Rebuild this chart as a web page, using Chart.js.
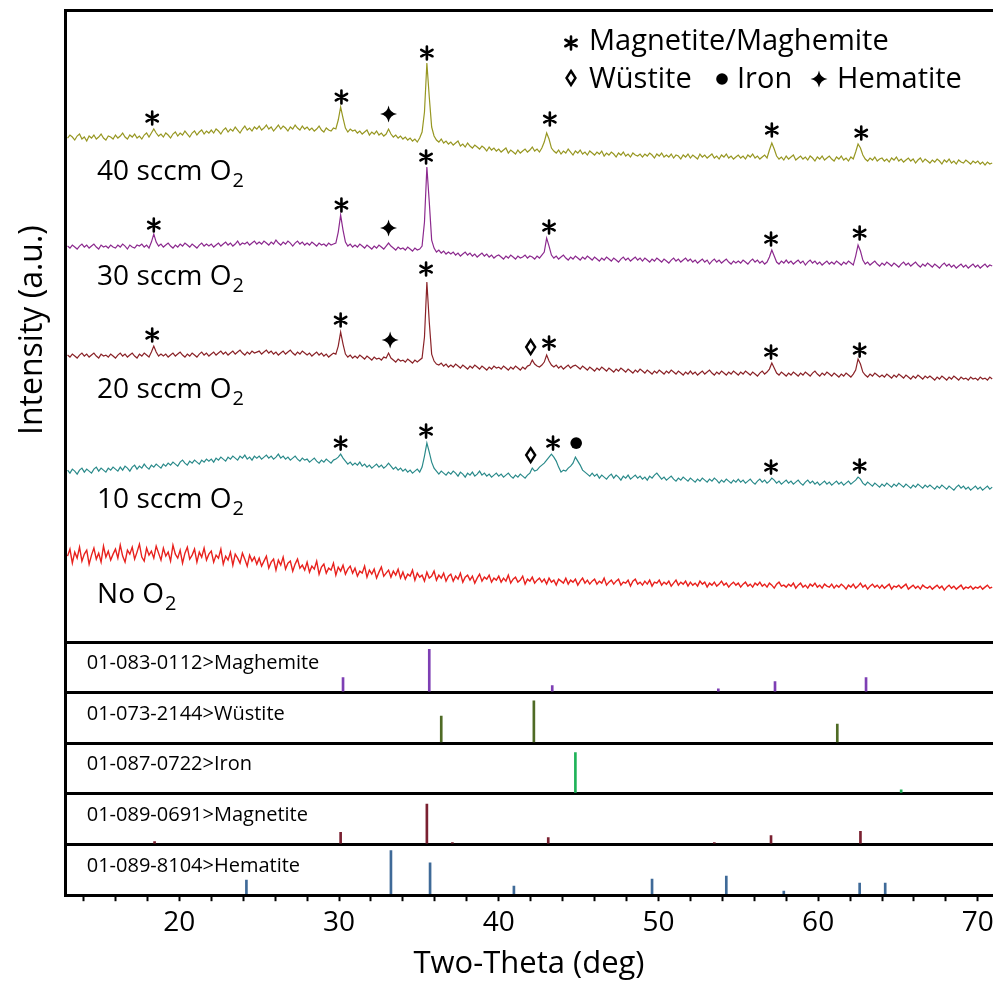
<!DOCTYPE html>
<html lang="en">
<head>
    <meta charset="UTF-8">
    <title>XRD patterns</title>
    <script src="https://cdn.jsdelivr.net/npm/chart.js@4.4.1/dist/chart.umd.min.js"></script>
    <style>
        body { margin: 0; background: #fff; }
        canvas { display: block; }
    </style>
</head>
<body>
<canvas id="xrd" width="993" height="990"></canvas>
<script>
// 2-theta grid (deg) shared by the measured patterns
const twoTheta = [
    13,13.15,13.3,13.45,13.6,13.75,13.9,14.05,14.2,14.35,14.5,14.65,14.8,14.95,15.1,15.25,15.4,15.55,15.7,15.85,
    16,16.15,16.3,16.45,16.6,16.75,16.9,17.05,17.2,17.35,17.5,17.65,17.8,17.95,18.1,18.25,18.4,18.55,18.7,18.85,
    19,19.15,19.3,19.45,19.6,19.75,19.9,20.05,20.2,20.35,20.5,20.65,20.8,20.95,21.1,21.25,21.4,21.55,21.7,21.85,
    22,22.15,22.3,22.45,22.6,22.75,22.9,23.05,23.2,23.35,23.5,23.65,23.8,23.95,24.1,24.25,24.4,24.55,24.7,24.85,
    25,25.15,25.3,25.45,25.6,25.75,25.9,26.05,26.2,26.35,26.5,26.65,26.8,26.95,27.1,27.25,27.4,27.55,27.7,27.85,
    28,28.15,28.3,28.45,28.6,28.75,28.9,29.05,29.2,29.35,29.5,29.65,29.8,29.95,30.1,30.25,30.4,30.55,30.7,30.85,
    31,31.15,31.3,31.45,31.6,31.75,31.9,32.05,32.2,32.35,32.5,32.65,32.8,32.95,33.1,33.25,33.4,33.55,33.7,33.85,
    34,34.15,34.3,34.45,34.6,34.75,34.9,35.05,35.2,35.35,35.5,35.65,35.8,35.95,36.1,36.25,36.4,36.55,36.7,36.85,
    37,37.15,37.3,37.45,37.6,37.75,37.9,38.05,38.2,38.35,38.5,38.65,38.8,38.95,39.1,39.25,39.4,39.55,39.7,39.85,
    40,40.15,40.3,40.45,40.6,40.75,40.9,41.05,41.2,41.35,41.5,41.65,41.8,41.95,42.1,42.25,42.4,42.55,42.7,42.85,
    43,43.15,43.3,43.45,43.6,43.75,43.9,44.05,44.2,44.35,44.5,44.65,44.8,44.95,45.1,45.25,45.4,45.55,45.7,45.85,
    46,46.15,46.3,46.45,46.6,46.75,46.9,47.05,47.2,47.35,47.5,47.65,47.8,47.95,48.1,48.25,48.4,48.55,48.7,48.85,
    49,49.15,49.3,49.45,49.6,49.75,49.9,50.05,50.2,50.35,50.5,50.65,50.8,50.95,51.1,51.25,51.4,51.55,51.7,51.85,
    52,52.15,52.3,52.45,52.6,52.75,52.9,53.05,53.2,53.35,53.5,53.65,53.8,53.95,54.1,54.25,54.4,54.55,54.7,54.85,
    55,55.15,55.3,55.45,55.6,55.75,55.9,56.05,56.2,56.35,56.5,56.65,56.8,56.95,57.1,57.25,57.4,57.55,57.7,57.85,
    58,58.15,58.3,58.45,58.6,58.75,58.9,59.05,59.2,59.35,59.5,59.65,59.8,59.95,60.1,60.25,60.4,60.55,60.7,60.85,
    61,61.15,61.3,61.45,61.6,61.75,61.9,62.05,62.2,62.35,62.5,62.65,62.8,62.95,63.1,63.25,63.4,63.55,63.7,63.85,
    64,64.15,64.3,64.45,64.6,64.75,64.9,65.05,65.2,65.35,65.5,65.65,65.8,65.95,66.1,66.25,66.4,66.55,66.7,66.85,
    67,67.15,67.3,67.45,67.6,67.75,67.9,68.05,68.2,68.35,68.5,68.65,68.8,68.95,69.1,69.25,69.4,69.55,69.7,69.85,
    70,70.15,70.3,70.45,70.6,70.75,70.9
];

// intensities, already offset for the stacked plot (a.u.)
const sccm40 = [
    504,507,505,502,506,508,503,505,501,506,504,507,503,505,508,504,502,506,505,503,
    507,504,506,509,505,503,507,505,508,504,506,503,507,509,505,509,513,509,506,508,
    505,509,507,504,508,510,506,509,507,511,508,505,509,511,507,510,512,508,511,509,
    512,509,513,511,508,512,514,510,513,511,515,512,509,513,516,512,514,511,515,513,
    516,512,514,517,513,515,511,514,517,513,516,514,511,515,513,517,514,512,516,513,
    515,512,514,511,513,516,512,510,514,512,511,514,513,522,535,524,514,510,513,511,
    512,509,511,508,510,512,507,510,508,511,507,509,506,508,513,508,505,507,504,506,
    503,505,502,504,501,503,500,504,510,530,579,545,515,506,502,500,503,499,501,498,
    500,497,499,501,496,498,495,499,496,494,497,495,493,496,494,491,495,492,494,491,
    493,490,492,494,489,492,490,488,492,489,491,493,490,492,495,491,493,490,494,500,
    509,503,494,491,489,492,488,491,489,493,490,487,491,489,492,488,490,487,491,489,
    487,490,488,491,486,489,487,490,488,485,489,487,490,486,488,485,489,487,486,488,
    485,488,486,489,487,484,488,486,489,485,487,485,488,484,487,486,483,487,485,488,
    484,487,485,483,488,485,487,484,486,488,484,486,483,487,485,488,484,486,483,485,
    487,484,486,483,487,485,488,484,486,483,485,487,484,492,499,493,486,483,485,482,
    486,483,485,487,482,484,486,483,485,482,486,484,481,485,483,486,482,484,486,483,
    481,485,483,486,482,484,481,485,483,490,498,494,487,483,481,484,482,485,481,483,
    484,481,483,480,484,482,485,481,483,480,482,484,481,483,479,482,484,480,483,481,
    479,482,480,483,481,478,482,480,483,479,481,478,482,480,479,482,480,478,481,479,
    481,478,480,477,480,478,479
];
const sccm30 = [
    396,394,397,395,393,396,398,395,397,394,396,398,395,393,397,395,396,394,397,395,
    394,397,395,398,396,393,397,395,394,397,396,398,395,397,394,400,408,400,396,398,
    395,397,399,396,394,397,395,398,396,399,397,395,398,396,394,397,399,396,398,396,
    398,395,397,399,396,398,400,397,399,396,398,401,397,399,398,400,397,399,401,398,
    400,398,401,399,397,400,398,402,399,397,400,398,401,399,396,399,401,398,400,397,
    399,397,400,398,396,399,397,398,396,399,397,398,399,410,427,412,400,396,398,395,
    397,395,398,396,394,397,395,393,396,394,397,395,393,396,399,396,394,392,395,393,
    394,392,395,393,391,394,392,393,396,420,475,440,402,394,390,392,389,391,388,390,
    388,390,387,389,386,388,390,387,389,386,388,385,387,389,386,388,385,387,384,386,
    387,385,383,386,384,387,385,383,386,384,385,387,384,386,385,383,386,384,387,390,
    404,396,387,384,386,383,385,387,384,382,385,383,386,384,382,385,383,386,384,382,
    385,383,381,384,382,385,383,381,384,382,380,383,385,382,384,381,383,385,382,384,
    381,384,382,380,383,381,384,382,380,383,381,379,382,384,381,383,380,382,384,381,
    383,380,382,379,381,383,380,382,378,381,383,380,382,379,381,383,380,378,381,379,
    381,379,382,380,378,381,383,380,382,379,381,378,380,385,392,386,380,378,381,379,
    382,379,381,378,380,382,379,381,377,380,382,379,381,378,380,377,379,381,378,380,
    378,381,379,377,380,378,381,379,377,386,397,391,382,378,380,377,379,381,378,376,
    379,377,380,378,376,379,377,375,378,380,377,379,376,378,380,377,375,378,376,379,
    377,375,378,376,374,377,379,376,378,375,377,374,376,378,375,377,374,376,378,375,
    377,374,376,378,375,377,376
];
const sccm20 = [
    287,285,288,286,284,287,289,286,288,285,287,289,286,284,288,286,287,285,288,286,
    284,287,289,286,288,285,287,289,286,284,288,286,289,287,285,290,296,290,286,288,
    286,288,285,287,289,286,288,290,287,285,288,286,289,287,285,288,290,287,289,286,
    288,290,287,289,291,288,290,287,289,291,288,290,292,289,287,290,288,291,289,290,
    291,288,290,292,289,291,288,290,287,289,291,288,290,292,289,287,290,288,291,289,
    287,289,286,288,290,287,289,286,288,285,287,289,288,296,310,298,288,285,287,284,
    286,284,287,285,283,286,284,282,285,283,284,282,285,284,289,284,282,280,283,281,
    282,280,283,281,279,282,280,282,284,305,360,320,288,281,278,277,279,276,278,275,
    277,275,278,276,274,277,275,273,276,274,277,275,273,276,274,272,275,273,276,274,
    275,273,276,274,272,275,273,276,274,272,275,273,276,277,282,278,276,275,277,280,
    287,281,277,275,277,274,276,273,275,277,274,276,277,275,273,276,274,272,275,273,
    271,274,272,275,273,271,274,272,270,273,271,274,272,270,273,271,269,272,270,273,
    271,269,272,270,268,271,269,272,270,268,271,269,272,270,268,271,269,267,270,268,
    271,268,270,267,269,271,268,270,272,269,267,270,268,271,269,267,270,268,271,269,
    267,270,268,271,269,267,270,268,266,269,271,268,270,273,279,274,269,267,270,268,
    266,269,267,270,268,266,269,267,270,268,266,269,271,268,266,269,267,270,268,266,
    269,267,265,268,266,269,267,265,268,272,283,278,270,267,265,268,266,269,267,265,
    267,265,268,266,264,267,265,268,266,264,267,265,263,266,264,267,265,263,266,264,
    266,264,262,265,263,266,264,262,265,263,266,264,262,265,263,264,262,265,263,264,
    262,265,263,264,262,265,263
];
const sccm10 = [
    172,169,173,171,168,172,174,170,173,171,169,173,175,171,174,172,170,174,172,175,
    173,171,175,172,176,174,171,175,177,173,176,174,178,175,173,177,175,178,176,174,
    178,176,179,177,180,178,176,180,182,179,177,181,179,182,180,178,182,180,183,181,
    183,180,184,182,185,183,181,185,183,186,184,182,186,184,187,183,185,182,186,184,
    186,183,185,187,184,186,183,185,188,184,186,183,185,182,184,186,183,181,184,182,
    183,180,182,184,181,179,182,180,183,181,179,182,183,185,188,184,181,178,180,177,
    179,177,180,176,178,175,177,174,176,178,175,177,174,176,179,176,173,175,172,174,
    171,173,170,172,169,171,173,170,175,186,199,190,180,174,171,168,171,169,167,170,
    168,171,169,166,170,168,165,169,167,170,166,168,171,167,169,166,168,165,167,169,
    166,168,165,167,169,166,164,167,165,168,166,164,167,169,174,171,172,175,177,179,
    182,185,188,185,181,175,170,172,171,174,176,179,185,181,177,172,170,168,166,169,
    166,168,164,167,165,163,166,168,164,167,165,162,166,164,167,163,165,167,164,166,
    163,165,162,166,164,167,169,166,163,165,162,164,166,163,161,164,162,165,163,161,
    164,162,160,163,161,164,162,160,163,161,164,162,159,162,160,163,161,159,162,160,
    163,160,162,159,161,163,160,158,161,163,160,162,159,161,164,162,159,161,158,160,
    162,159,161,158,160,162,159,157,160,162,159,161,158,160,157,159,161,158,160,157,
    159,161,158,160,157,159,161,158,160,162,165,163,159,157,160,158,156,159,157,155,
    158,156,159,157,155,158,156,159,157,155,158,156,154,157,155,158,156,154,157,155,
    157,155,153,156,154,157,155,153,156,154,152,155,157,154,156,153,155,152,154,156,
    153,155,152,154,156,153,155
];
const noO2 = [
    86,93,79,90,84,95,81,88,92,78,87,94,83,89,80,96,85,91,82,88,
    93,84,97,86,80,92,88,95,83,90,98,85,81,94,87,91,84,96,89,82,
    94,86,90,81,97,88,84,92,79,89,95,83,87,93,80,90,85,94,82,88,
    91,80,87,84,93,78,86,82,90,77,88,84,79,89,83,76,87,81,85,78,
    84,76,81,86,74,80,83,72,82,77,85,73,79,81,71,78,83,74,77,72,
    80,70,76,73,81,68,75,78,69,74,72,79,67,75,71,77,68,73,76,69,
    74,66,71,69,76,65,72,68,73,64,70,75,66,69,72,65,71,67,73,64,
    70,63,68,66,72,62,69,65,67,61,70,64,66,71,62,67,64,69,61,66,
    68,61,66,63,69,60,65,67,62,66,59,64,68,61,65,63,67,60,64,62,
    66,60,64,61,67,59,63,65,60,62,66,58,63,61,65,59,62,64,60,63,
    58,64,60,62,57,63,61,59,64,58,62,60,63,57,61,64,59,62,58,61,
    63,58,61,59,64,57,60,62,58,61,63,57,60,59,62,56,61,63,58,60,
    57,61,58,62,56,60,59,62,57,60,58,61,56,59,62,57,60,58,61,56,
    60,57,59,56,61,58,60,55,59,57,60,56,58,61,57,59,55,58,60,57,
    59,55,58,60,56,58,55,59,57,60,56,58,55,59,57,54,58,60,56,57,
    55,58,56,59,54,57,59,55,57,54,58,56,59,55,57,54,58,56,55,58,
    54,57,55,58,56,53,57,55,58,54,56,59,55,57,53,56,58,55,57,54,
    57,54,56,58,53,56,55,57,54,56,58,53,55,57,54,56,53,57,55,54,
    56,53,55,57,54,56,52,55,57,54,56,53,55,57,53,55,54,56,53,55,
    54,56,53,55,57,54,55
];

// reference cards: [2-theta, relative intensity]
const maghemiteRef = [[30.25,15],[35.65,43],[43.35,7],[53.75,4],[57.3,11],[63.0,15]];
const wustiteRef   = [[36.4,27],[42.2,42],[61.2,19]];
const ironRef      = [[44.8,41],[65.2,4]];
const magnetiteRef = [[18.45,3],[30.1,12],[35.5,40],[37.1,2],[43.1,7],[53.5,2],[57.05,9],[62.65,13]];
const hematiteRef  = [[24.2,15],[33.25,44],[35.7,32],[40.95,9],[49.6,16],[54.25,19],[57.85,4],[62.6,12],[64.2,12]];

const refNames = ['01-083-0112>Maghemite', '01-073-2144>Wüstite', '01-087-0722>Iron',
                  '01-089-0691>Magnetite', '01-089-8104>Hematite'];

// peak markers: [2-theta, intensity, symbol]  * spinel, d wustite, o iron, + hematite
const marks40 = [[18.3,524,'*'],[30.15,545,'*'],[33.1,528,'+'],[35.5,589,'*'],[43.2,523,'*'],[57.1,512,'*'],[62.7,509,'*']];
const marks30 = [[18.4,417,'*'],[30.15,437,'*'],[33.1,414,'+'],[35.45,485,'*'],[43.15,415,'*'],[57.05,403,'*'],[62.6,409,'*']];
const marks20 = [[18.3,307,'*'],[30.1,322,'*'],[33.2,302,'+'],[35.45,373,'*'],[42.0,295,'d'],[43.15,299,'*'],[57.05,290,'*'],[62.6,292,'*']];
const marks10 = [[30.1,199,'*'],[35.45,211,'*'],[42.0,187,'d'],[43.4,199,'*'],[44.85,199,'o'],[57.05,175,'*'],[62.6,176,'*']];

const sampleNames = ['40 sccm O', '30 sccm O', '20 sccm O', '10 sccm O', 'No O'];
const sampleLabelPos = [[14.85,462],[14.85,357],[14.85,244],[14.85,134],[14.85,39]];

const xTickLabels = [20, 30, 40, 50, 60, 70];

function pts(arr) {
    return twoTheta.map((t, i) => ({x: t, y: arr[i]}));
}
function sticks(arr) {
    return arr.map(p => ({x: p[0], y: p[1]}));
}

function drawSymbol(ctx, kind, x, y) {
    ctx.save();
    ctx.translate(x, y);
    ctx.fillStyle = '#000';
    ctx.strokeStyle = '#000';
    ctx.beginPath();
    if (kind === '*') {
        ctx.lineWidth = 2.6;
        ctx.lineCap = 'round';
        for (let a = 0; a < 3; a++) {
            const t = Math.PI / 2 + a * Math.PI / 3;
            ctx.moveTo(-Math.cos(t) * 6.5, -Math.sin(t) * 6.5);
            ctx.lineTo(Math.cos(t) * 6.5, Math.sin(t) * 6.5);
        }
        ctx.stroke();
    } else if (kind === 'd') {
        ctx.lineWidth = 2.4;
        ctx.moveTo(0, -7); ctx.lineTo(4.5, 0); ctx.lineTo(0, 7); ctx.lineTo(-4.5, 0);
        ctx.closePath();
        ctx.stroke();
    } else if (kind === 'o') {
        ctx.arc(0, 0, 5.8, 0, Math.PI * 2);
        ctx.fill();
    } else {
        const w = 8.5, h = 8.5, c = 1.2;
        ctx.moveTo(0, -h);
        ctx.quadraticCurveTo(c, -c, w, 0);
        ctx.quadraticCurveTo(c, c, 0, h);
        ctx.quadraticCurveTo(-c, c, -w, 0);
        ctx.quadraticCurveTo(-c, -c, 0, -h);
        ctx.fill();
    }
    ctx.restore();
}

const annotate = {
    id: 'annotate',
    afterDatasetsDraw(chart) {
        const {ctx, scales, chartArea} = chart;
        const xs = scales.x, ym = scales.y;
        ctx.save();
        ctx.fillStyle = '#000';

        // y axis title
        ctx.save();
        ctx.translate(33, (ym.top + ym.bottom) / 2 + 4);
        ctx.rotate(-Math.PI / 2);
        ctx.font = '32px "Open Sans"';
        ctx.textAlign = 'center';
        ctx.textBaseline = 'middle';
        ctx.fillText('Intensity (a.u.)', 0, 0);
        ctx.restore();

        // sample labels with subscript 2
        ctx.textAlign = 'left';
        ctx.textBaseline = 'alphabetic';
        sampleNames.forEach((name, i) => {
            const px = xs.getPixelForValue(sampleLabelPos[i][0]);
            const py = ym.getPixelForValue(sampleLabelPos[i][1]);
            ctx.font = '28px "Open Sans"';
            ctx.fillText(name, px, py);
            const w = ctx.measureText(name).width;
            ctx.font = '20px "Open Sans"';
            ctx.fillText('2', px + w + 1, py + 7);
        });

        // peak markers
        [marks40, marks30, marks20, marks10].forEach(list => {
            list.forEach(m => drawSymbol(ctx, m[2], xs.getPixelForValue(m[0]), ym.getPixelForValue(m[1])));
        });

        // symbol key
        const L = chartArea.left, T = chartArea.top;
        ctx.font = '29px "Open Sans"';
        ctx.textBaseline = 'alphabetic';
        drawSymbol(ctx, '*', L + 506, T + 33);
        ctx.fillText('Magnetite/Maghemite', L + 524, T + 40);
        drawSymbol(ctx, 'd', L + 506, T + 68);
        ctx.fillText('Wüstite', L + 524, T + 78);
        drawSymbol(ctx, 'o', L + 657, T + 69);
        ctx.fillText('Iron', L + 672, T + 78);
        drawSymbol(ctx, '+', L + 754, T + 69);
        ctx.fillText('Hematite', L + 772, T + 78);

        // reference card names
        ctx.font = '20px "Open Sans"';
        ctx.textBaseline = 'middle';
        ['yMgh', 'yWus', 'yFe', 'yMag', 'yHem'].forEach((id, i) => {
            const sc = scales[id];
            ctx.fillText(refNames[i], xs.getPixelForValue(14.2), sc.getPixelForValue(29));
        });
        ctx.restore();
    }
};

function panelAxis(weight) {
    return {
        type: 'linear',
        position: 'left',
        stack: 'xrd',
        stackWeight: weight,
        min: 0,
        max: 50,
        ticks: {display: false, stepSize: 50},
        grid: {
            drawTicks: false,
            lineWidth: 3,
            color: c => c.tick && c.tick.value === 50 ? '#000' : 'rgba(0,0,0,0)'
        },
        border: {display: true, width: 3, color: '#000'}
    };
}

function bars(data, color, axis) {
    return {
        type: 'bar', data: sticks(data), yAxisID: axis, backgroundColor: color,
        borderWidth: 0, barThickness: 2, grouped: false
    };
}

function trace(data, color, width) {
    return {
        type: 'line', data: pts(data), yAxisID: 'y', borderColor: color,
        borderWidth: width, pointRadius: 0, tension: 0, fill: false
    };
}

new Chart(document.getElementById('xrd'), {
    type: 'line',
    data: {
        datasets: [
            trace(sccm40, '#979722', 1.2),
            trace(sccm30, '#8c2a8e', 1.2),
            trace(sccm20, '#8a2328', 1.2),
            trace(sccm10, '#2a8a8a', 1.2),
            trace(noO2, '#e8211d', 1.4),
            bars(maghemiteRef, '#7e3fb4', 'yMgh'),
            bars(wustiteRef, '#4f6b25', 'yWus'),
            bars(ironRef, '#1fb359', 'yFe'),
            bars(magnetiteRef, '#7a2131', 'yMag'),
            bars(hematiteRef, '#3f6a98', 'yHem')
        ]
    },
    options: {
        responsive: false,
        animation: false,
        layout: {padding: {left: 65, top: 10, right: 0, bottom: 0}},
        plugins: {legend: {display: false}, tooltip: {enabled: false}},
        scales: {
            x: {
                type: 'linear',
                position: 'bottom',
                offset: false,
                min: 12.84,
                max: 70.95,
                afterFit: s => { s.paddingLeft = 0; s.paddingRight = 0; },
                ticks: {
                    stepSize: 2,
                    includeBounds: false,
                    autoSkip: false,
                    maxRotation: 0,
                    padding: 5,
                    color: '#000',
                    font: {family: 'Open Sans', size: 28},
                    callback: v => xTickLabels.includes(Math.round(v)) && Math.abs(v - Math.round(v)) < 1e-6 ? String(Math.round(v)) : ''
                },
                grid: {offset: false, drawOnChartArea: false, drawTicks: true, tickLength: 6, tickWidth: 2, tickColor: '#000'},
                border: {display: true, width: 3, color: '#000'},
                title: {
                    display: true, text: 'Two-Theta (deg)', color: '#000',
                    font: {family: 'Open Sans', size: 31},
                    padding: {top: 1, bottom: 7}
                }
            },
            // stacked from the bottom: last defined ends up on top
            yHem: panelAxis(50.6),
            yMag: panelAxis(50.6),
            yFe: panelAxis(50.6),
            yWus: panelAxis(50.6),
            yMgh: panelAxis(50.6),
            y: {
                type: 'linear',
                position: 'left',
                stack: 'xrd',
                stackWeight: 632,
                min: 0,
                max: 632,
                ticks: {display: false, stepSize: 632},
                grid: {
                    drawTicks: false,
                    lineWidth: 3,
                    color: c => c.tick && c.tick.value === 632 ? '#000' : 'rgba(0,0,0,0)'
                },
                border: {display: true, width: 3, color: '#000'}
            }
        }
    },
    plugins: [annotate]
});
</script>
</body>
</html>
